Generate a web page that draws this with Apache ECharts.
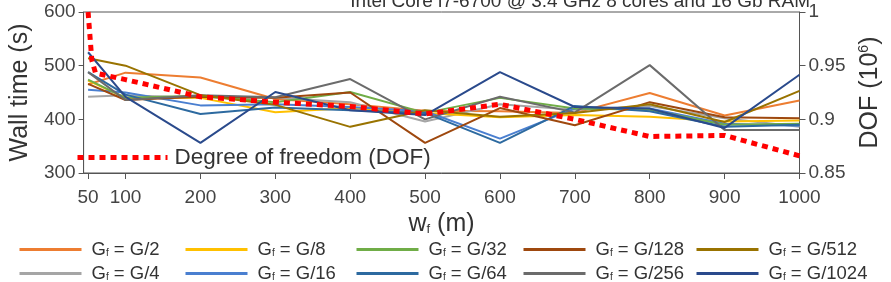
<!DOCTYPE html>
<html>
<head>
<meta charset="utf-8">
<script src="https://cdn.jsdelivr.net/npm/echarts@6/dist/echarts.min.js"></script>
<style>
  html, body { margin: 0; padding: 0; background: #fff; }
  #chart { width: 891px; height: 282px; }
</style>
</head>
<body>
<div id="chart"></div>
<script>
// w_f (m)
var wf = [50, 100, 200, 300, 400, 500, 600, 700, 800, 900, 1000];
var xTicks = [50, 100, 200, 300, 400, 500, 600, 700, 800, 900, 1000];

// wall time (s) for each G_f
var tG2    = [465, 487, 478, 438, 428, 416, 415, 412, 449, 407, 435];
var tG4    = [442, 445, 440, 440, 432, 396, 428, 418, 425, 402, 386];
var tG8    = [472, 440, 440, 413, 421, 412, 404, 408, 405, 396, 398];
var tG16   = [455, 450, 426, 428, 423, 415, 364, 420, 420, 392, 388];
var tG32   = [474, 440, 444, 432, 451, 412, 440, 420, 418, 390, 392];
var tG64   = [488, 446, 410, 422, 417, 412, 356, 425, 415, 386, 390];
var tG128  = [466, 436, 442, 440, 450, 356, 421, 389, 432, 404, 402];
var tG256  = [488, 436, 445, 441, 475, 400, 442, 413, 501, 380, 380];
var tG512  = [514, 500, 445, 427, 386, 417, 405, 412, 428, 395, 453];
var tG1024 = [525, 442, 356, 451, 417, 408, 488, 423, 420, 384, 483];

// degree of freedom (10^6)
var dofW = [50, 55, 60, 100, 200, 300, 400, 500, 600, 700, 800, 900, 1000];
var dofV = [1.0, 0.955, 0.943, 0.937, 0.921, 0.916, 0.912, 0.905, 0.914, 0.900, 0.884, 0.885, 0.866];

var names  = ['G/2', 'G/4', 'G/8', 'G/16', 'G/32', 'G/64', 'G/128', 'G/256', 'G/512', 'G/1024'];
var values = [tG2, tG4, tG8, tG16, tG32, tG64, tG128, tG256, tG512, tG1024];
var colors = ['#ED7D31', '#A5A5A5', '#FFC000', '#4A7FD0', '#70AD47', '#2D6AA0', '#9E480E', '#6B6B6B', '#997300', '#2A4A8C'];

var font = 'Liberation Sans, Arial, sans-serif';
var myChart = echarts.init(document.getElementById('chart'));

var series = names.map(function (n, i) {
    return {
        name: n,
        type: 'line',
        yAxisIndex: 0,
        symbol: 'none',
        data: wf.map(function (x, j) { return [x, values[i][j]]; }),
        lineStyle: { width: 2, color: colors[i] },
        itemStyle: { color: colors[i] }
    };
});
series.push({
    name: 'Degree of freedom (DOF)',
    type: 'line',
    yAxisIndex: 1,
    symbol: 'none',
    z: 5,
    data: dofW.map(function (x, j) { return [x, dofV[j]]; }),
    lineStyle: { width: 5, color: '#FF0000', type: [6, 5], cap: 'butt' },
    itemStyle: { color: '#FF0000' }
});

// legend layout: 2 rows x 5 columns
var legendOrder = ['G/2', 'G/8', 'G/32', 'G/128', 'G/512', 'G/4', 'G/16', 'G/64', 'G/256', 'G/1024'];
var colX = [18, 184, 355, 522, 695];
var legends = legendOrder.map(function (n, k) {
    return {
        data: [n],
        left: colX[k % 5],
        top: k < 5 ? 240 : 264,
        padding: 0,
        itemWidth: 62,
        itemHeight: 14,
        selectedMode: false,
        itemStyle: { opacity: 0 },
        lineStyle: { width: 3 },
        formatter: function (s) { return 'G{s|f} = ' + s; },
        textStyle: {
            fontFamily: font, fontSize: 18.5, color: '#333',
            padding: [0, 0, 0, 5],
            rich: { s: { fontFamily: font, fontSize: 10, color: '#333', padding: [8, 0, 0, 0] } }
        }
    };
});
legends.push({
    data: ['Degree of freedom (DOF)'],
    left: 75,
    top: 146,
    padding: 0,
    itemWidth: 90,
    itemHeight: 14,
    selectedMode: false,
    itemStyle: { opacity: 0 },
    lineStyle: { width: 5, type: [6, 5], cap: 'butt' },
    textStyle: { fontFamily: font, fontSize: 22.5, color: '#333', padding: [0, 0, 0, 2] }
});

var option = {
    animation: false,
    backgroundColor: '#fff',
    textStyle: { fontFamily: font },
    graphic: [{
        type: 'text',
        right: 81,
        top: -8,
        style: {
            text: 'Intel Core i7-6700 @ 3.4 GHz 8 cores and 16 Gb RAM',
            font: '19px ' + font,
            fill: '#333'
        }
    }],
    legend: legends,
    grid: {
        left: 68, right: 83, top: 12, bottom: 109,
        show: true, borderColor: '#555', borderWidth: 1
    },
    xAxis: {
        type: 'value',
        min: 44, max: 1000,
        name: 'w{s|f} (m)',
        nameLocation: 'middle',
        nameGap: 37,
        nameTextStyle: {
            fontFamily: font, fontSize: 25, color: '#333',
            rich: { s: { fontFamily: font, fontSize: 13, color: '#333', padding: [10, 0, 0, 0] } }
        },
        splitLine: { show: false },
        axisLine: { lineStyle: { color: '#555' } },
        axisTick: { customValues: xTicks, length: 6, lineStyle: { color: '#555' } },
        axisLabel: {
            customValues: xTicks, margin: 15, fontSize: 19, color: '#444', fontFamily: font,
            formatter: function (v) { return String(v); }
        }
    },
    yAxis: [{
        type: 'value',
        min: 300, max: 600, interval: 100,
        name: 'Wall time (s)',
        nameLocation: 'middle',
        nameGap: 45,
        nameTextStyle: { fontFamily: font, fontSize: 25, color: '#333' },
        splitLine: { show: false },
        axisLine: { show: true, lineStyle: { color: '#555' } },
        axisTick: { show: true, length: 5, lineStyle: { color: '#555' } },
        axisLabel: { margin: 8, fontSize: 19, color: '#444', fontFamily: font }
    }, {
        type: 'value',
        position: 'right',
        min: 0.85, max: 1, interval: 0.05,
        name: 'DOF (10{sup|6})',
        nameLocation: 'middle',
        nameRotate: 90,
        nameGap: 58,
        nameTextStyle: {
            fontFamily: font, fontSize: 25, color: '#333',
            rich: { sup: { fontFamily: font, fontSize: 14, color: '#333', padding: [0, 0, 12, 0] } }
        },
        splitLine: { show: false },
        axisLine: { show: true, lineStyle: { color: '#555' } },
        axisTick: { show: true, length: 6, lineStyle: { color: '#555' } },
        axisLabel: { margin: 9, fontSize: 19, color: '#444', fontFamily: font }
    }],
    series: series
};
myChart.setOption(option);
</script>
</body>
</html>
